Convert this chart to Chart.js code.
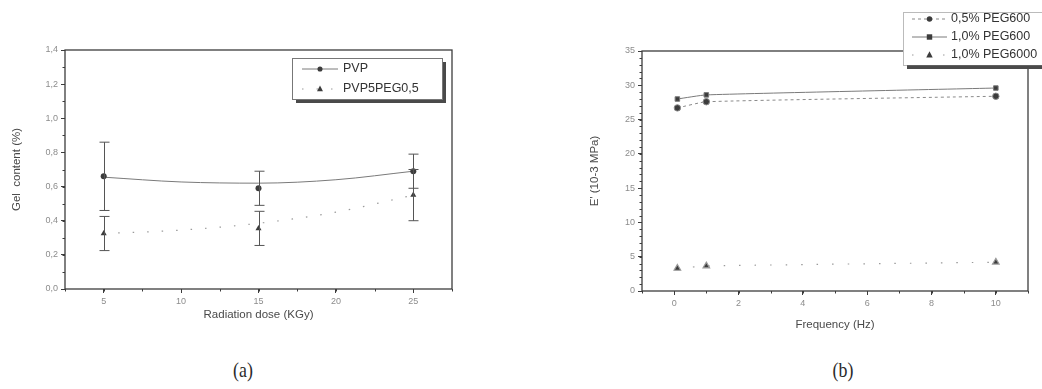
<!DOCTYPE html>
<html>
<head>
<meta charset="utf-8">
<script src="https://cdn.jsdelivr.net/npm/chart.js@4.4.1/dist/chart.umd.min.js"></script>
<style>
    html, body { margin: 0; padding: 0; background: #fff; }
    body { width: 1042px; height: 389px; position: relative; overflow: hidden; }
    .panel { position: absolute; top: 0; }
    #panelA { left: 0; }
    #panelB { left: 520px; }
    .caption {
        position: absolute; top: 358px; width: 60px; text-align: center;
        font-family: "Liberation Serif", serif; font-size: 21px; color: #2a2a2a;
        transform: scaleX(0.85);
    }
</style>
</head>
<body>
<div class="panel" id="panelA"><canvas id="chartA" width="520" height="340"></canvas></div>
<div class="panel" id="panelB"><canvas id="chartB" width="522" height="340"></canvas></div>
<div class="caption" style="left:213px">(a)</div>
<div class="caption" style="left:813px">(b)</div>

<script>
// (a) gel content vs radiation dose
const doseX = [5, 15, 25];
const pvpGel = [0.66, 0.59, 0.69];
const pvpErr = [0.20, 0.10, 0.10];
const pegGel = [0.325, 0.355, 0.55];
const pegErr = [0.10, 0.10, 0.15];
// fitted curves
const fitDose = [5, 10, 15, 20, 25];
const pvpFit = [0.655, 0.627, 0.62, 0.64, 0.69];
const pegFit = [0.325, 0.345, 0.385, 0.45, 0.55];
const doseTicks = [5, 10, 15, 20, 25];
const gelTicks = [0, 0.2, 0.4, 0.6, 0.8, 1.0, 1.2, 1.4];

// (b) E' vs frequency
const freqX = [0.1, 1, 10];
const peg600Half = [26.7, 27.6, 28.4];
const peg600One = [28.0, 28.6, 29.6];
const peg6000One = [3.3, 3.65, 4.2];
const freqTicks = [0, 2, 4, 6, 8, 10];
const modTicks = [0, 5, 10, 15, 20, 25, 30, 35];

const INK = '#3c3c3c';
const LINE = '#7a7a7a';
const TICKTXT = '#8c8c8c';
const FONT = "'Liberation Sans', Arial, sans-serif";

const pts = (xs, ys) => xs.map((x, i) => ({ x: x, y: ys[i] }));
const comma = (v, d) => v.toFixed(d).replace('.', ',');

function drawMarker(ctx, style, r, x, y) {
    ctx.beginPath();
    if (style === 'circle') {
        ctx.arc(x, y, r, 0, Math.PI * 2);
    } else if (style === 'rect') {
        ctx.rect(x - r, y - r, r * 2, r * 2);
    } else {
        ctx.moveTo(x, y - r * 1.15);
        ctx.lineTo(x + r, y + r * 0.75);
        ctx.lineTo(x - r, y + r * 0.75);
        ctx.closePath();
    }
    ctx.fill();
}

// Origin style frame round the plot + small minor ticks
const framePlugin = {
    id: 'frame',
    afterDraw(chart, args, opts) {
        const { ctx, chartArea: a } = chart;
        ctx.save();
        ctx.strokeStyle = INK;
        ctx.lineWidth = 1.3;
        ctx.strokeRect(a.left, a.top, a.right - a.left, a.bottom - a.top);
        ctx.lineWidth = 1;
        const xs = chart.scales.x, ys = chart.scales.y;
        for (let v = opts.xMinorFrom; v <= xs.max + 1e-9; v += opts.xMinor) {
            const px = Math.round(xs.getPixelForValue(v)) + 0.5;
            ctx.beginPath(); ctx.moveTo(px, a.bottom); ctx.lineTo(px, a.bottom + 2.5); ctx.stroke();
        }
        for (let v = ys.min; v <= ys.max + 1e-9; v += opts.yMinor) {
            const py = Math.round(ys.getPixelForValue(v)) + 0.5;
            ctx.beginPath(); ctx.moveTo(a.left, py); ctx.lineTo(a.left - 2.5, py); ctx.stroke();
        }
        ctx.restore();
    }
};

// error bars, from the dataset's err array through the scales
const errorBarPlugin = {
    id: 'errorBars',
    afterDatasetsDraw(chart) {
        const { ctx } = chart;
        const xs = chart.scales.x, ys = chart.scales.y;
        ctx.save();
        ctx.strokeStyle = '#555';
        ctx.lineWidth = 1;
        chart.data.datasets.forEach(ds => {
            if (!ds.err) return;
            ds.data.forEach((p, i) => {
                const x = Math.round(xs.getPixelForValue(p.x)) + 0.5;
                const y1 = ys.getPixelForValue(p.y + ds.err[i]);
                const y2 = ys.getPixelForValue(p.y - ds.err[i]);
                ctx.beginPath();
                ctx.moveTo(x, y1); ctx.lineTo(x, y2);
                ctx.moveTo(x - 5, y1); ctx.lineTo(x + 5, y1);
                ctx.moveTo(x - 5, y2); ctx.lineTo(x + 5, y2);
                ctx.stroke();
            });
        });
        ctx.restore();
    }
};

// boxed legend with a drop shadow, drawn inside the figure
const boxLegendPlugin = {
    id: 'boxLegend',
    afterDraw(chart, args, o) {
        const { ctx } = chart;
        const ds = chart.data.datasets;
        ctx.save();
        ctx.fillStyle = '#4a4a4a';
        ctx.fillRect(o.x + 4, o.y + 4, o.w, o.h);
        ctx.fillStyle = '#fff';
        ctx.fillRect(o.x, o.y, o.w, o.h);
        ctx.strokeStyle = '#777';
        ctx.lineWidth = 1;
        ctx.setLineDash(o.dotted ? [1, 1] : []);
        ctx.strokeRect(o.x + 0.5, o.y + 0.5, o.w, o.h);
        o.rows.forEach((r, i) => {
            const y = o.y + o.firstRow + i * o.rowGap;
            const line = ds[r.line], pt = ds[r.point];
            ctx.strokeStyle = line.borderColor;
            ctx.lineWidth = 1;
            ctx.setLineDash(line.borderDash || []);
            ctx.beginPath();
            ctx.moveTo(o.x + o.sampleFrom, y); ctx.lineTo(o.x + o.sampleTo, y);
            ctx.stroke();
            ctx.setLineDash([]);
            ctx.fillStyle = INK;
            drawMarker(ctx, pt.pointStyle, pt.pointRadius * 0.85, o.x + (o.sampleFrom + o.sampleTo) / 2, y);
            ctx.fillStyle = '#333';
            ctx.font = '12.5px ' + FONT;
            ctx.textBaseline = 'middle';
            ctx.fillText(pt.label, o.x + o.textX, y);
        });
        ctx.restore();
    }
};

function axis(min, max, ticks, fmt, title, titlePad, size, horizontal) {
    return {
        type: 'linear', min: min, max: max,
        afterBuildTicks: s => { s.ticks = ticks.map(v => ({ value: v })); },
        afterFit: s => { if (horizontal) s.height = size; else s.width = size; },
        grid: { drawOnChartArea: false, drawTicks: true, tickLength: 4, color: INK, tickColor: INK },
        border: { display: false },
        ticks: { color: TICKTXT, font: { family: FONT, size: 9 }, padding: 3, callback: fmt },
        title: { display: true, text: title, color: '#4a4a4a', font: { family: FONT, size: 11.5 }, padding: titlePad }
    };
}

new Chart(document.getElementById('chartA'), {
    type: 'scatter',
    data: {
        datasets: [
            { label: 'PVP', data: pts(doseX, pvpGel), err: pvpErr, pointStyle: 'circle', pointRadius: 3,
              backgroundColor: INK, borderColor: INK, showLine: false },
            { label: 'PVP5PEG0,5', data: pts(doseX, pegGel), err: pegErr, pointStyle: 'triangle', pointRadius: 3.5,
              backgroundColor: INK, borderColor: INK, showLine: false },
            { label: 'PVP fit', data: pts(fitDose, pvpFit), showLine: true, pointRadius: 0,
              borderColor: LINE, borderWidth: 1, cubicInterpolationMode: 'monotone' },
            { label: 'PVP5PEG0,5 fit', data: pts(fitDose, pegFit), showLine: true, pointRadius: 0,
              borderColor: '#9a9a9a', borderWidth: 1.2, borderDash: [1.5, 13], cubicInterpolationMode: 'monotone' }
        ]
    },
    options: {
        responsive: false, animation: false,
        layout: { padding: { left: 0, top: 50, right: 68, bottom: 0 } },
        elements: { point: { borderWidth: 0 } },
        plugins: {
            legend: { display: false }, tooltip: { enabled: false },
            frame: { xMinorFrom: 2.5, xMinor: 2.5, yMinor: 0.1 },
            boxLegend: { x: 292, y: 58, w: 150, h: 41, firstRow: 11, rowGap: 20,
                         sampleFrom: 10, sampleTo: 46, textX: 51, dotted: false,
                         rows: [{ point: 0, line: 2 }, { point: 1, line: 3 }] }
        },
        scales: {
            x: axis(2.5, 27.5, doseTicks, v => v, 'Radiation dose (KGy)', { top: 0, bottom: 18 }, 51, true),
            y: axis(0, 1.4, gelTicks, v => comma(v, 1), 'Gel  content (%)', { top: 10, bottom: 0 }, 65, false)
        }
    },
    plugins: [framePlugin, errorBarPlugin, boxLegendPlugin]
});

new Chart(document.getElementById('chartB'), {
    type: 'scatter',
    data: {
        datasets: [
            { label: '0,5% PEG600', data: pts(freqX, peg600Half), pointStyle: 'circle', pointRadius: 3.2,
              backgroundColor: INK, borderColor: '#8a8a8a', borderWidth: 1, borderDash: [3, 3],
              showLine: true, tension: 0.15 },
            { label: '1,0% PEG600', data: pts(freqX, peg600One), pointStyle: 'rect', pointRadius: 3.2,
              backgroundColor: INK, borderColor: LINE, borderWidth: 1,
              showLine: true, tension: 0.15 },
            { label: '1,0% PEG6000', data: pts(freqX, peg6000One), pointStyle: 'triangle', pointRadius: 3.8,
              backgroundColor: INK, borderColor: '#9a9a9a', borderWidth: 1.2, borderDash: [1.5, 14],
              showLine: true, tension: 0.15 }
        ]
    },
    options: {
        responsive: false, animation: false,
        layout: { padding: { left: 0, top: 51, right: 14, bottom: 0 } },
        elements: { point: { borderWidth: 0 } },
        plugins: {
            legend: { display: false }, tooltip: { enabled: false },
            frame: { xMinorFrom: -1, xMinor: 1, yMinor: 1 },
            boxLegend: { x: 383, y: 12, w: 150, h: 53, firstRow: 7, rowGap: 18,
                         sampleFrom: 9, sampleTo: 44, textX: 48, dotted: true,
                         rows: [{ point: 0, line: 0 }, { point: 1, line: 1 }, { point: 2, line: 2 }] }
        },
        scales: {
            x: axis(-1, 11, freqTicks, v => v, 'Frequency (Hz)', { top: 0, bottom: 8 }, 49, true),
            y: axis(0, 35, modTicks, v => v, "E' (10-3 MPa)", { top: 68, bottom: 0 }, 122, false)
        }
    },
    plugins: [framePlugin, boxLegendPlugin]
});
</script>
</body>
</html>
